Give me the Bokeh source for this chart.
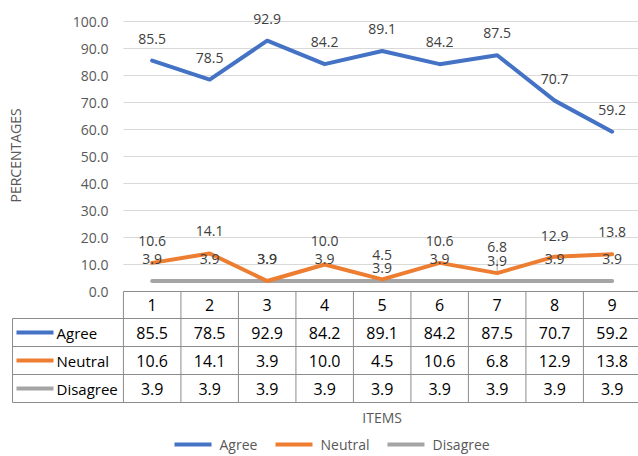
from bokeh.plotting import figure
from bokeh.models import Range1d
from bokeh.core.properties import value
from bokeh.embed import file_html
from bokeh.resources import INLINE

items = [1, 2, 3, 4, 5, 6, 7, 8, 9]
item_labels = ["1", "2", "3", "4", "5", "6", "7", "8", "9"]
agree = [85.5, 78.5, 92.9, 84.2, 89.1, 84.2, 87.5, 70.7, 59.2]
neutral = [10.6, 14.1, 3.9, 10.0, 4.5, 10.6, 6.8, 12.9, 13.8]
disagree = [3.9, 3.9, 3.9, 3.9, 3.9, 3.9, 3.9, 3.9, 3.9]
series_names = ["Agree", "Neutral", "Disagree"]
series_values = [agree, neutral, disagree]
series_colors = ["#4472C4", "#ED7D31", "#A5A5A5"]
y_ticks = [0, 10, 20, 30, 40, 50, 60, 70, 80, 90, 100]

FONT = value("Open Sans")

# label offsets in screen pixels (Excel nudged a few to avoid overlap)
label_offsets = [
    [-22] * 9,
    [-22, -22, -22, -24, -24, -22, -26, -21, -22],
    [-22, -22, -22, -22, -13, -22, -20, -22, -22],
]

p = figure(width=638, height=456, output_backend="svg", toolbar_location=None,
           x_range=Range1d(-1.638, 9.458), y_range=Range1d(-61.11, 107.78),
           min_border=0, min_border_left=0, min_border_right=0,
           min_border_top=0, min_border_bottom=0)
p.axis.visible = False
p.grid.visible = False
p.outline_line_color = None
p.background_fill_color = "white"
p.border_fill_color = "white"

x0, x1 = 0.5, 9.5

# horizontal gridlines
p.segment(x0=[x0] * len(y_ticks), x1=[x1] * len(y_ticks), y0=y_ticks, y1=y_ticks,
          line_color="#D9D9D9", line_width=1)
# y tick labels
p.text(x=[0.24] * len(y_ticks), y=y_ticks, text=["%.1f" % t for t in y_ticks],
       text_font=FONT, text_font_size="14px", text_color="#595959",
       text_align="right", text_baseline="middle")
# y axis title
p.text(x=[-1.377], y=[50.4], text=["PERCENTAGES"], angle=1.5708,
       text_font=FONT, text_font_size="14px", text_color="#595959",
       text_align="center", text_baseline="middle")

# leader line for the nudged label at item 7
p.segment(x0=[items[6]], x1=[items[6]], y0=[neutral[6] + 0.8], y1=[neutral[6] + 5.0],
          line_color="#A6A6A6", line_width=1)

# series lines (drawn in reverse so Agree is on top)
for name, vals, col in reversed(list(zip(series_names, series_values, series_colors))):
    p.line(items, vals, line_color=col, line_width=4, line_join="round", line_cap="round")

# data labels
for name, vals, offs in zip(series_names, series_values, label_offsets):
    p.text(x=items, y=vals, text=["%.1f" % v for v in vals], y_offset=offs,
           text_font=FONT, text_font_size="14px", text_color="#404040",
           text_align="center", text_baseline="middle")

# ---- data table ----
row_edges = [0.0, -10.0, -20.37, -30.74, -41.11]
left_edge = -1.429
bc = "#8C8C8C"
p.segment(x0=[x0], x1=[x1], y0=[row_edges[0]], y1=[row_edges[0]], line_color=bc, line_width=1)
p.segment(x0=[left_edge] * 4, x1=[x1] * 4, y0=row_edges[1:], y1=row_edges[1:],
          line_color=bc, line_width=1)
vx = [i - 0.5 for i in items]
p.segment(x0=vx, x1=vx, y0=[row_edges[0]] * len(vx), y1=[row_edges[-1]] * len(vx),
          line_color=bc, line_width=1)
p.segment(x0=[left_edge], x1=[left_edge], y0=[row_edges[1]], y1=[row_edges[-1]],
          line_color=bc, line_width=1)

row_centers = [(row_edges[k] + row_edges[k + 1]) / 2 for k in range(4)]
p.text(x=items, y=[row_centers[0]] * 9, text=item_labels, text_font=FONT,
       text_font_size="16px", text_color="#000000", text_align="center",
       text_baseline="middle")
for k, (name, vals, col) in enumerate(zip(series_names, series_values, series_colors)):
    yc = row_centers[k + 1]
    p.text(x=items, y=[yc] * 9, text=["%.1f" % v for v in vals], text_font=FONT,
           text_font_size="16px", text_color="#000000", text_align="center",
           text_baseline="middle")
    p.segment(x0=[-1.36], x1=[-0.716], y0=[yc], y1=[yc], line_color=col, line_width=4)
    p.text(x=[-0.664], y=[yc], text=[name], text_font=FONT, text_font_size="15px",
           text_color="#000000", text_align="left", text_baseline="middle")

# x axis title
p.text(x=[5.0], y=[-46.67], text=["ITEMS"], text_font=FONT, text_font_size="14px",
       text_color="#595959", text_align="center", text_baseline="middle")

# bottom legend
leg_sw = [(1.388, 2.032, 2.171), (3.145, 3.788, 3.927), (5.092, 5.736, 5.875)]
for (a, b, t), name, col in zip(leg_sw, series_names, series_colors):
    p.segment(x0=[a], x1=[b], y0=[-56.67], y1=[-56.67], line_color=col, line_width=4)
    p.text(x=[t], y=[-56.67], text=[name], text_font=FONT, text_font_size="14px",
           text_color="#595959", text_align="left", text_baseline="middle")

open("out.html", "w").write(file_html(p, INLINE))
